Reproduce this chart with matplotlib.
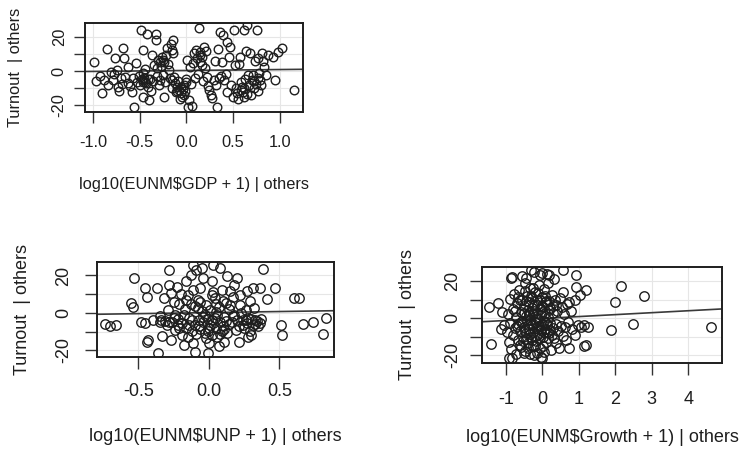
import numpy as np
import matplotlib
matplotlib.use("Agg")
import matplotlib.pyplot as plt

plt.rcParams["font.family"] = ["Liberation Sans", "DejaVu Sans"]

# added-variable residuals
gdp_pts = [
    (-0.99, 5.5), (-0.97, -5.7), (-0.90, -12.7), (-0.85, 12.7), (-0.88, -5.3), (-0.81, -0.4),
    (-0.79, -5.3), (-0.76, 7.5), (-0.73, -9.2), (-0.70, -4.3), (-0.68, 13.3), (-0.67, 7.5),
    (-0.63, 2.5), (-0.62, -6.9), (-0.72, -11.6), (-0.58, -12.2), (-0.56, -21.0), (-0.54, 4.5),
    (-0.53, -6.3), (-0.49, 24.0), (-0.42, 22.0), (-0.46, 12.4), (-0.47, -1.4), (-0.46, -6.3),
    (-0.43, -7.3), (-0.40, -17.0), (-0.47, -15.0), (-0.33, 22.0), (-0.33, 18.0), (-0.37, 9.4),
    (-0.35, 3.5), (-0.30, 6.5), (-0.28, -5.3), (-0.24, 5.5), (-0.22, 9.4), (-0.21, 13.3),
    (-0.19, 0.6), (-0.24, -15.0), (-0.14, 18.0), (-0.15, 12.4), (-0.14, 10.4), (-0.15, -5.3),
    (-0.12, -7.3), (-0.10, -9.2), (-0.08, -11.2), (-0.06, -13.0), (-0.05, -15.0), (-0.03, -8.2),
    (-0.01, -6.3), (0.01, 6.5), (0.04, 2.5), (0.06, -20.5), (0.02, -21.0), (0.08, 10.4),
    (0.11, 7.5), (0.15, 11.4), (0.13, 25.0), (0.19, 14.3), (0.20, 1.6), (0.22, -3.3),
    (0.24, -11.2), (0.26, -14.0), (0.29, -5.3), (0.33, -21.0), (0.35, -4.3), (0.36, 23.0),
    (0.39, 21.0), (0.38, 5.5), (0.40, -5.3), (0.43, 17.0), (0.47, 14.3), (0.43, -12.2),
    (0.51, 24.0), (0.52, 3.5), (0.54, -13.0), (0.57, 8.4), (0.58, -6.3), (0.59, -9.2),
    (0.61, 24.0), (0.65, 27.0), (0.62, -15.0), (0.66, -2.4), (0.68, 10.4), (0.70, -5.3),
    (0.72, -10.2), (0.75, 24.0), (0.77, 7.5), (0.79, -5.3), (0.81, 10.4), (0.83, 2.5),
    (0.85, -2.4), (0.93, 8.4), (0.95, -5.3), (1.02, 13.3), (1.15, -11.2),
    (-0.92, -3.0), (-0.84, -8.0), (-0.77, -2.0), (-0.74, 0.5), (-0.69, -7.5), (-0.66, -3.5),
    (-0.60, -9.0), (-0.57, -4.0), (-0.51, -3.2), (-0.50, -8.5), (-0.48, -5.0), (-0.45, -4.0),
    (-0.44, 1.0), (-0.41, -9.5), (-0.39, -4.5), (-0.38, -12.0), (-0.36, -6.0), (-0.32, -3.0),
    (-0.31, 1.5), (-0.29, -8.0), (-0.27, 3.0), (-0.26, 8.0), (-0.25, -2.5), (-0.23, -6.5),
    (-0.20, 4.0), (-0.18, -4.0), (-0.17, 16.0), (-0.16, -10.0), (-0.13, -3.5), (-0.11, -12.5),
    (-0.09, -6.0), (-0.07, -16.5), (-0.04, -10.5), (-0.02, -12.0), (0.00, -4.5), (0.03, -17.0),
    (0.05, -7.5), (0.07, 4.5), (0.09, -4.0), (0.10, 12.5), (0.12, -2.0), (0.14, 5.0),
    (0.17, 8.5), (0.18, -6.0), (0.21, 12.0), (0.23, -9.0), (0.27, -16.0), (0.30, 6.0),
    (0.32, -8.0), (0.34, 13.0), (0.37, -3.0), (0.42, -1.5), (0.45, 8.0), (0.48, -8.0),
    (0.50, -15.5), (0.53, -10.0), (0.55, -16.5), (0.56, 4.0), (0.60, -12.5), (0.63, -4.5),
    (0.64, 12.0), (0.67, -8.5), (0.69, -14.0), (0.71, -2.5), (0.73, 6.0), (0.74, -7.5),
    (0.76, -11.5), (0.78, -1.0), (0.80, -8.0), (0.82, 6.0), (0.87, 9.5), (0.98, 11.0),
    (-0.47, -5.5), (-0.44, -6.5), (-0.41, -5.0), (-0.10, -11.5), (-0.06, -9.5), (-0.03, -14.0),
    (0.58, -11.0), (0.62, -10.0), (0.65, -13.5), (0.72, -6.0), (0.76, -4.0), (-0.28, 5.5),
    (-0.25, 6.5), (0.15, 9.5), (0.17, 3.5),
]

unp_pts = [
    (-0.74, -6.0), (-0.66, -6.4), (-0.70, -7.2), (-0.53, 18.5), (-0.55, 5.2), (-0.54, 3.4),
    (-0.48, -4.6), (-0.45, -5.5), (-0.44, -15.6), (-0.43, -14.4), (-0.45, 13.2), (-0.44, 8.7),
    (-0.37, 13.2), (-0.36, -21.5), (-0.32, 7.8), (-0.35, -1.8), (-0.30, -6.2), (-0.28, 23.0),
    (-0.28, 15.0), (-0.27, -14.4), (-0.24, -0.9), (-0.23, 14.0), (-0.22, -6.2), (-0.21, 4.6),
    (-0.19, -11.6), (-0.18, -17.0), (-0.16, 16.9), (-0.15, 9.8), (-0.14, -2.7), (-0.12, -9.8),
    (-0.11, 25.7), (-0.10, -20.6), (-0.09, 23.0), (-0.08, 2.8), (-0.06, 13.2), (-0.05, 24.0),
    (-0.04, 18.5), (-0.03, -0.9), (-0.02, -13.5), (-0.01, -21.5), (0.01, -6.2), (0.02, 9.8),
    (0.03, 25.7), (0.04, -2.7), (0.05, 4.6), (0.08, 24.0), (0.09, -9.8), (0.10, 6.4),
    (0.11, -15.3), (0.12, -4.4), (0.15, 11.6), (0.17, -1.8), (0.18, 15.0), (0.20, 18.5),
    (0.21, -15.3), (0.22, 9.8), (0.23, 0.0), (0.24, -6.2), (0.27, 11.6), (0.28, -2.7),
    (0.29, 6.4), (0.30, -11.6), (0.31, 13.2), (0.34, -4.4), (0.36, 13.2), (0.36, -5.3),
    (0.38, 23.5), (0.41, 7.3), (0.47, 13.2), (0.51, -6.2), (0.52, -11.6), (0.60, 8.2),
    (0.64, 7.8), (0.67, -6.0), (0.74, -4.6), (0.81, -11.4), (0.83, -2.7),
    (-0.31, -4.5), (-0.29, 1.5), (-0.26, -5.0), (-0.25, 6.0), (-0.24, -9.0), (-0.22, -3.0),
    (-0.20, 10.0), (-0.19, -5.5), (-0.17, 2.0), (-0.16, -8.0), (-0.15, -13.0), (-0.13, 5.0),
    (-0.12, -4.0), (-0.11, 12.0), (-0.10, -6.5), (-0.09, -11.0), (-0.08, 7.0), (-0.07, -3.5),
    (-0.06, -8.5), (-0.05, 1.0), (-0.04, -5.0), (-0.03, -10.5), (-0.02, 4.0), (-0.01, -3.0),
    (0.00, -8.0), (0.00, -16.0), (0.01, 1.5), (0.02, -11.5), (0.03, -5.5), (0.04, 8.0),
    (0.05, -8.0), (0.06, -1.0), (0.06, -13.0), (0.07, 3.0), (0.08, -5.0), (0.09, 12.5),
    (0.10, -7.0), (0.11, -2.0), (0.12, 5.5), (0.13, -10.5), (0.14, 2.0), (0.16, -5.0),
    (0.17, 8.5), (0.19, -9.0), (0.20, -3.5), (0.22, 4.5), (0.24, -4.0), (0.25, -8.0),
    (0.26, 1.5), (0.27, -5.5), (0.28, -13.0), (0.30, -3.0), (0.31, -6.5), (0.32, 2.5),
    (0.33, -4.0), (0.35, -7.0), (-0.40, -4.0), (-0.34, -3.5), (-0.33, -12.5), (-0.27, 10.5),
    (0.02, 17.0), (-0.13, 20.0), (0.13, 19.5), (-0.35, -5.0), (0.37, -3.0),
    (-0.18, -1.0), (-0.14, -6.5), (-0.10, 3.5), (-0.07, -7.0), (-0.04, -2.0), (-0.01, -9.5),
    (0.02, -4.0), (0.05, 0.5), (0.08, -11.0), (0.11, -8.5), (0.14, -6.0), (0.18, -1.0),
    (0.21, -7.0), (0.26, -3.5), (0.29, -9.5), (-0.21, -8.0), (-0.25, -2.5), (-0.11, -16.0),
    (0.07, -17.5), (-0.06, 6.0), (0.03, 11.0), (0.15, 4.0), (-0.16, 7.0), (0.33, -6.0),
    (-0.28, -5.0),
]

growth_pts = [
    (-1.46, 6.1), (-1.23, 8.3), (-1.41, -14.2), (-0.86, 21.8), (-0.45, 21.8), (-0.31, 26.0),
    (-0.08, 23.2), (0.19, 23.2), (0.56, 26.0), (0.93, 23.5), (1.20, 15.1), (1.02, 12.4),
    (0.74, 8.8), (0.56, 14.2), (0.38, 7.0), (1.15, -3.8), (1.06, -4.7), (1.20, -14.6),
    (0.74, -16.4), (0.88, -9.2), (0.65, -11.9), (2.16, 17.5), (2.80, 12.1), (1.98, 8.5),
    (2.48, -3.4), (1.89, -6.5), (4.63, -4.7), (1.24, -4.9), (1.15, -15.0), (0.93, 17.0),
    (-0.83, -21.8), (0.00, -21.8), (0.00, 24.5),
    (-1.05, -4.0), (-0.98, -7.5), (-0.95, 2.0), (-0.92, -13.0), (-0.90, 10.5), (-0.88, -2.5),
    (-0.85, -17.0), (-0.82, 5.0), (-0.80, -9.0), (-0.78, 13.0), (-0.76, -5.5), (-0.74, -19.5),
    (-0.72, 0.5), (-0.70, 8.0), (-0.68, -12.0), (-0.66, -3.0), (-0.64, 15.0), (-0.62, -7.0),
    (-0.60, 3.5), (-0.58, -15.5), (-0.56, 10.0), (-0.55, -1.5), (-0.53, -10.0), (-0.51, 6.5),
    (-0.50, -5.0), (-0.48, 19.0), (-0.47, -18.0), (-0.46, 1.0), (-0.44, -8.0), (-0.43, 12.0),
    (-0.41, -3.5), (-0.40, 4.5), (-0.39, -13.5), (-0.37, 8.5), (-0.36, -6.0), (-0.35, 16.0),
    (-0.33, -1.0), (-0.32, -10.5), (-0.30, 5.5), (-0.29, -4.0), (-0.28, 11.0), (-0.26, -7.5),
    (-0.25, 2.0), (-0.24, -20.0), (-0.22, 7.0), (-0.21, -2.0), (-0.20, 14.0), (-0.18, -5.5),
    (-0.17, -12.5), (-0.16, 3.0), (-0.14, 9.5), (-0.13, -8.5), (-0.12, -0.5), (-0.10, 18.0),
    (-0.09, -4.5), (-0.08, 5.0), (-0.06, -16.0), (-0.05, -6.5), (-0.04, 1.5), (-0.02, 11.5),
    (-0.01, -3.0), (0.01, -10.0), (0.02, 6.0), (0.04, -1.5), (0.05, 15.5), (0.07, -6.0),
    (0.08, 3.0), (0.10, -13.0), (0.11, 9.0), (0.13, -4.0), (0.15, 0.5), (0.16, 19.0),
    (0.18, -8.0), (0.20, 5.5), (0.22, -2.5), (0.24, -17.5), (0.26, 12.5), (0.28, -5.5),
    (0.30, 2.5), (0.33, -11.0), (0.35, 9.5), (0.38, -3.0), (0.41, 4.0), (0.44, -7.0),
    (0.47, 11.0), (0.50, -4.5), (0.53, 6.0), (0.57, -9.5), (0.60, 2.0), (0.63, -5.0),
    (0.67, 7.5), (0.70, -2.0), (0.78, 4.0), (0.82, -6.0), (0.90, 10.0), (0.97, -3.5),
    (-1.15, -6.0), (-1.10, 3.5), (-0.93, -21.5), (-0.84, 22.0), (-0.57, 23.0), (-0.23, 25.0),
    (0.12, 24.0), (0.32, 21.0), (-0.03, -21.0), (-0.27, -15.0), (-0.62, -14.5),
    (-0.58, -2.0), (-0.52, 3.0), (-0.49, -7.0), (-0.45, 9.0), (-0.42, -1.0), (-0.38, 2.5),
    (-0.34, -8.5), (-0.31, 12.0), (-0.27, -3.0), (-0.23, 4.0), (-0.19, -9.5), (-0.15, 7.0),
    (-0.11, -6.0), (-0.07, 10.0), (-0.03, -4.5), (0.00, 3.5), (0.03, -7.5), (0.06, 8.5),
    (0.09, -2.5), (0.14, -11.0), (0.17, 4.5), (0.21, -6.5), (-0.61, 9.5), (-0.54, -12.5),
    (-0.47, 14.5), (-0.40, -16.0), (-0.36, 1.5), (-0.30, -12.0), (-0.26, 16.5), (-0.21, -15.0),
    (-0.16, 0.0), (-0.12, 13.5), (-0.07, -11.0), (-0.02, 6.5), (0.02, -15.0), (0.07, 12.0),
    (0.12, -7.5), (0.19, 9.0), (0.25, -9.0), (0.29, 6.5), (-0.70, -4.5), (-0.75, 4.0),
    (-0.66, 11.5), (-0.52, -19.0), (-0.34, -19.5), (-0.14, -19.0), (0.05, -18.5), (-0.45, -11.5),
    (0.36, -13.5), (0.45, -16.0),
]

# fitted line (slope, intercept) of each added-variable plot
gdp_fit = (0.55, 0.3)
unp_fit = (1.13, 0.2)
growth_fit = (1.05, -0.25)

gdp_xticks = [-1.0, -0.5, 0.0, 0.5, 1.0]
unp_xticks = [-0.5, 0.0, 0.5]
growth_xticks = [-1, 0, 1, 2, 3, 4]
y_ticks = [-20, -10, 0, 10, 20]
y_ticklabels = ["-20", "", "0", "", "20"]

panels = [
    dict(pts=gdp_pts, fit=gdp_fit, xticks=gdp_xticks, fmt="{:.1f}",
         xlabel="log10(EUNM$GDP + 1) | others",
         rect=[85 / 739, 342 / 454, 218 / 739, 89 / 454],
         xlim=(-1.085, 1.246), ylim=(-24.1, 28.2), s=0.91,
         xlab_y=-0.809, ylab_x=-0.321, xpad=8.6, ypad=5.5),
    dict(pts=unp_pts, fit=unp_fit, xticks=unp_xticks, fmt="{:.1f}",
         xlabel="log10(EUNM$UNP + 1) | others",
         rect=[97 / 739, 97 / 454, 237 / 739, 95 / 454],
         xlim=(-0.794, 0.887), ylim=(-23.5, 27.2), s=1.0,
         xlab_y=-0.842, ylab_x=-0.316, xpad=10, ypad=9.4),
    dict(pts=growth_pts, fit=growth_fit, xticks=growth_xticks, fmt="{:d}",
         xlabel="log10(EUNM$Growth + 1) | others",
         rect=[482 / 739, 91 / 454, 240 / 739, 96 / 454],
         xlim=(-1.66, 4.93), ylim=(-24.3, 27.6), s=1.0,
         xlab_y=-0.781, ylab_x=-0.3125, xpad=11.5, ypad=6.5),
]

fig = plt.figure(figsize=(7.39, 4.54), dpi=100)

for p in panels:
    s = p["s"]
    ax = fig.add_axes(p["rect"])
    x = [a for a, b in p["pts"]]
    y = [b for a, b in p["pts"]]

    ax.set_xlim(*p["xlim"])
    ax.set_ylim(*p["ylim"])
    ax.set_xticks(p["xticks"])
    ax.set_xticklabels([p["fmt"].format(t) for t in p["xticks"]])
    ax.set_yticks(y_ticks)
    ax.set_yticklabels(y_ticklabels, rotation=90, va="center")

    ax.grid(True, color="#e6e6e6", lw=0.8, zorder=0)
    ax.set_axisbelow(True)
    ax.plot(x, y, "o", ms=6.8 * s, mfc="none", mec="#1e1e1e", mew=1.0, zorder=3)
    m, b = p["fit"]
    ax.axline((0, b), slope=m, color="#3a3a3a", lw=1.2, zorder=2)

    for sp in ax.spines.values():
        sp.set_linewidth(1.4)
        sp.set_color("#1e1e1e")
    ax.tick_params(axis="both", direction="out", length=8.4 * s, width=1.0,
                   color="#333333", labelsize=13 * s, labelcolor="#1e1e1e")
    ax.tick_params(axis="x", pad=p["xpad"])
    ax.tick_params(axis="y", pad=p["ypad"])

    ax.set_xlabel(p["xlabel"], fontsize=13 * s, color="#1e1e1e")
    ax.xaxis.set_label_coords(0.5, p["xlab_y"])
    ax.xaxis.label.set_va("center")
    ax.set_ylabel("Turnout  | others", fontsize=13 * s, color="#1e1e1e")
    ax.yaxis.set_label_coords(p["ylab_x"], 0.5)
    ax.yaxis.label.set_va("center")

fig.savefig("out.png", dpi=100)
